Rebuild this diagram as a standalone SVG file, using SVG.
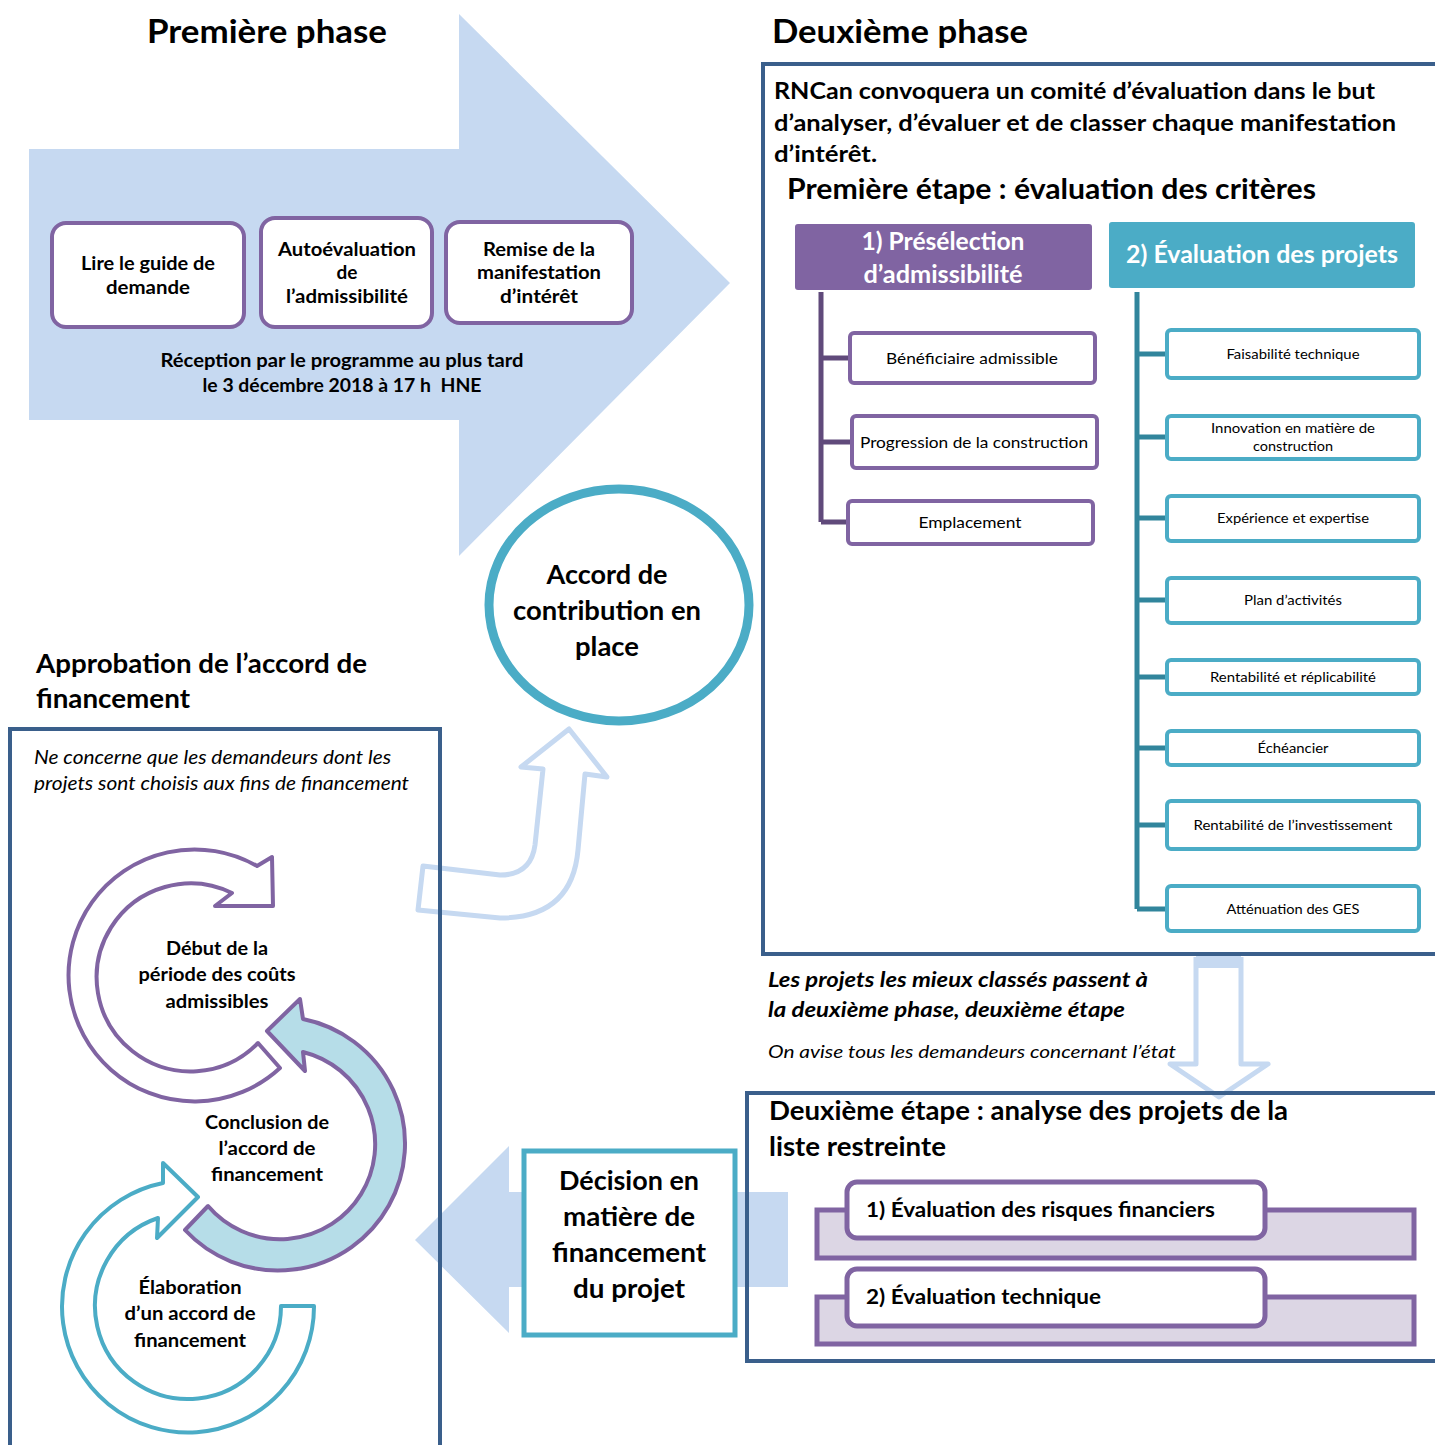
<svg xmlns="http://www.w3.org/2000/svg" width="1435" height="1445" viewBox="0 0 1435 1445">
<style>
text{font-family:Lato,"Open Sans","Liberation Sans",sans-serif;fill:#000}
.b{font-weight:bold}
.c{text-anchor:middle}
.i{font-style:italic}
.w{fill:#fff}
.frame{fill:none;stroke:#3A5F8B;stroke-width:4}
.pbox{fill:#fff;stroke:#8064A2;stroke-width:4}
.tbox{fill:#fff;stroke:#4BACC6;stroke-width:4}
.lb{fill:#C6D9F1}
.lbo{fill:none;stroke:#C6D9F1;stroke-width:5;stroke-linejoin:round}
.pl{stroke:#604A7B;stroke-width:5;fill:none}
.tl{stroke:#31859C;stroke-width:5;fill:none}
</style>
<rect width="1435" height="1445" fill="#fff"/>

<g id="connectors">
  <polygon class="lb" points="29,149 459,149 459,14 730,283 459,556 459,420 29,420"/>
  <polygon class="lb" points="788,1192 509,1192 509,1146 415,1240 509,1333 509,1287 788,1287"/>
  <path class="lbo" d="M543,769 L535,845 Q531,875 500,875 L423,866 L418,910 L500,918 Q572,918 578,850 L585,774 L607,777 L569,729 L521,767 Z"/>
  <rect class="lb" x="1196" y="955" width="45" height="13"/>
  <path class="lbo" d="M1196,957 L1196,1064 L1170,1064 L1219,1097 L1268,1064 L1241,1064 L1241,957"/>
  <path class="pl" d="M821,292 L821,522 M821,358 L850,358 M821,442 L852,442 M821,522 L848,522"/>
  <path class="tl" d="M1137,292 L1137,909 M1137,354 L1167,354 M1137,437 L1167,437 M1137,518 L1167,518 M1137,600 L1167,600 M1137,677 L1167,677 M1137,748 L1167,748 M1137,825 L1167,825 M1137,909 L1167,909"/>
</g>

<g id="frames">
  <rect class="frame" x="763" y="64" width="680" height="890"/>
  <rect class="frame" x="747" y="1093" width="696" height="268"/>
  <rect class="frame" x="10" y="729" width="430" height="730"/>
</g>

<g id="phase1">
  <text class="b c" x="267" y="43" font-size="32" textLength="240" lengthAdjust="spacingAndGlyphs">Première phase</text>
  <text class="b c" x="342" y="367" font-size="18" textLength="363" lengthAdjust="spacingAndGlyphs">Réception par le programme au plus tard</text>
  <text class="b c" x="342" y="392" font-size="18" textLength="279" lengthAdjust="spacingAndGlyphs" style="white-space:pre">le 3 décembre 2018 à 17 h  HNE</text>
</g>
<g id="n-lire">
  <rect class="pbox" x="52" y="223" width="192" height="104" rx="14"/>
  <text class="b c" x="148" y="270" font-size="19" textLength="134" lengthAdjust="spacingAndGlyphs">Lire le guide de</text>
  <text class="b c" x="148" y="294" font-size="19" textLength="84" lengthAdjust="spacingAndGlyphs">demande</text>
</g>
<g id="n-auto">
  <rect class="pbox" x="261" y="218" width="171" height="109" rx="14"/>
  <text class="b c" x="347" y="256" font-size="19" textLength="138" lengthAdjust="spacingAndGlyphs">Autoévaluation</text>
  <text class="b c" x="347" y="279" font-size="19">de</text>
  <text class="b c" x="347" y="303" font-size="19" textLength="122" lengthAdjust="spacingAndGlyphs">l’admissibilité</text>
</g>
<g id="n-remise">
  <rect class="pbox" x="446" y="222" width="186" height="101" rx="14"/>
  <text class="b c" x="539" y="256" font-size="19" textLength="112" lengthAdjust="spacingAndGlyphs">Remise de la</text>
  <text class="b c" x="539" y="279" font-size="19" textLength="124" lengthAdjust="spacingAndGlyphs">manifestation</text>
  <text class="b c" x="539" y="303" font-size="19" textLength="78" lengthAdjust="spacingAndGlyphs">d’intérêt</text>
</g>

<g id="n-accord">
  <ellipse cx="619" cy="605" rx="130" ry="116" fill="#fff" stroke="#4BACC6" stroke-width="9"/>
  <text class="b c" x="607" y="584" font-size="26" textLength="121" lengthAdjust="spacingAndGlyphs">Accord de</text>
  <text class="b c" x="607" y="620" font-size="26" textLength="188" lengthAdjust="spacingAndGlyphs">contribution en</text>
  <text class="b c" x="607" y="656" font-size="26" textLength="64" lengthAdjust="spacingAndGlyphs">place</text>
</g>

<g id="phase2">
  <text class="b" x="772" y="43" font-size="32" textLength="256" lengthAdjust="spacingAndGlyphs">Deuxième phase</text>
  <text class="b" x="774" y="99" font-size="23" textLength="601" lengthAdjust="spacingAndGlyphs">RNCan convoquera un comité d’évaluation dans le but</text>
  <text class="b" x="774" y="131" font-size="23" textLength="622" lengthAdjust="spacingAndGlyphs">d’analyser, d’évaluer et de classer chaque manifestation</text>
  <text class="b" x="774" y="162" font-size="23" textLength="103" lengthAdjust="spacingAndGlyphs">d’intérêt.</text>
  <text class="b" x="787" y="199" font-size="28" textLength="529" lengthAdjust="spacingAndGlyphs">Première étape : évaluation des critères</text>
</g>
<g id="n-presel">
  <rect x="795" y="224" width="297" height="66" rx="3" fill="#8064A2"/>
  <text class="b c w" x="943" y="250" font-size="24" textLength="163" lengthAdjust="spacingAndGlyphs">1) Présélection</text>
  <text class="b c w" x="943" y="283" font-size="24" textLength="159" lengthAdjust="spacingAndGlyphs">d’admissibilité</text>
</g>
<g id="n-evalproj">
  <rect x="1109" y="222" width="306" height="66" rx="3" fill="#4BACC6"/>
  <text class="b c w" x="1262" y="263" font-size="24" textLength="272" lengthAdjust="spacingAndGlyphs">2) Évaluation des projets</text>
</g>
<g id="n-benef"><rect class="pbox" x="850" y="333" width="245" height="50" rx="4"/><text class="c" x="972" y="364" font-size="16" textLength="172" lengthAdjust="spacingAndGlyphs">Bénéficiaire admissible</text></g>
<g id="n-progr"><rect class="pbox" x="852" y="416" width="245" height="52" rx="4"/><text class="c" x="974" y="448" font-size="16" textLength="228" lengthAdjust="spacingAndGlyphs">Progression de la construction</text></g>
<g id="n-empl"><rect class="pbox" x="848" y="501" width="245" height="43" rx="4"/><text class="c" x="970" y="528" font-size="16" textLength="103" lengthAdjust="spacingAndGlyphs">Emplacement</text></g>

<g id="n-c1"><rect class="tbox" x="1167" y="330" width="252" height="48" rx="4"/><text class="c" x="1293" y="359" font-size="14" textLength="133" lengthAdjust="spacingAndGlyphs">Faisabilité technique</text></g>
<g id="n-c2"><rect class="tbox" x="1167" y="416" width="252" height="43" rx="4"/><text class="c" x="1293" y="433" font-size="14" textLength="164" lengthAdjust="spacingAndGlyphs">Innovation en matière de</text><text class="c" x="1293" y="451" font-size="14" textLength="80" lengthAdjust="spacingAndGlyphs">construction</text></g>
<g id="n-c3"><rect class="tbox" x="1167" y="496" width="252" height="45" rx="4"/><text class="c" x="1293" y="523" font-size="14" textLength="152" lengthAdjust="spacingAndGlyphs">Expérience et expertise</text></g>
<g id="n-c4"><rect class="tbox" x="1167" y="578" width="252" height="45" rx="4"/><text class="c" x="1293" y="605" font-size="14" textLength="98" lengthAdjust="spacingAndGlyphs">Plan d’activités</text></g>
<g id="n-c5"><rect class="tbox" x="1167" y="660" width="252" height="34" rx="4"/><text class="c" x="1293" y="682" font-size="14" textLength="166" lengthAdjust="spacingAndGlyphs">Rentabilité et réplicabilité</text></g>
<g id="n-c6"><rect class="tbox" x="1167" y="731" width="252" height="34" rx="4"/><text class="c" x="1293" y="753" font-size="14" textLength="71" lengthAdjust="spacingAndGlyphs">Échéancier</text></g>
<g id="n-c7"><rect class="tbox" x="1167" y="801" width="252" height="48" rx="4"/><text class="c" x="1293" y="830" font-size="14" textLength="199" lengthAdjust="spacingAndGlyphs">Rentabilité de l’investissement</text></g>
<g id="n-c8"><rect class="tbox" x="1167" y="886" width="252" height="45" rx="4"/><text class="c" x="1293" y="914" font-size="14" textLength="133" lengthAdjust="spacingAndGlyphs">Atténuation des GES</text></g>

<g id="notes">
  <text class="b i" x="768" y="987" font-size="21" textLength="380" lengthAdjust="spacingAndGlyphs">Les projets les mieux classés passent à</text>
  <text class="b i" x="768" y="1017" font-size="21" textLength="357" lengthAdjust="spacingAndGlyphs">la deuxième phase, deuxième étape</text>
  <text class="i" x="768" y="1058" font-size="18" textLength="408" lengthAdjust="spacingAndGlyphs">On avise tous les demandeurs concernant l’état</text>
</g>

<g id="etape2">
  <text class="b" x="769" y="1120" font-size="26" textLength="519" lengthAdjust="spacingAndGlyphs">Deuxième étape : analyse des projets de la</text>
  <text class="b" x="769" y="1156" font-size="26" textLength="177" lengthAdjust="spacingAndGlyphs">liste restreinte</text>
</g>
<g id="n-risques">
  <rect x="817" y="1210" width="597" height="48" fill="#DCD6E4" stroke="#8064A2" stroke-width="5"/>
  <rect x="847" y="1182" width="418" height="56" rx="10" fill="#fff" stroke="#8064A2" stroke-width="5"/>
  <text class="b" x="866" y="1217" font-size="21" textLength="349" lengthAdjust="spacingAndGlyphs">1) Évaluation des risques financiers</text>
</g>
<g id="n-technique">
  <rect x="817" y="1297" width="597" height="47" fill="#DCD6E4" stroke="#8064A2" stroke-width="5"/>
  <rect x="847" y="1269" width="418" height="57" rx="10" fill="#fff" stroke="#8064A2" stroke-width="5"/>
  <text class="b" x="866" y="1304" font-size="21" textLength="235" lengthAdjust="spacingAndGlyphs">2) Évaluation technique</text>
</g>

<g id="n-decision">
  <rect x="524" y="1151" width="211" height="184" fill="#fff" stroke="#4BACC6" stroke-width="5"/>
  <text class="b c" x="629" y="1190" font-size="26" textLength="140" lengthAdjust="spacingAndGlyphs">Décision en</text>
  <text class="b c" x="629" y="1226" font-size="26" textLength="132" lengthAdjust="spacingAndGlyphs">matière de</text>
  <text class="b c" x="629" y="1262" font-size="26" textLength="154" lengthAdjust="spacingAndGlyphs">financement</text>
  <text class="b c" x="629" y="1298" font-size="26" textLength="112" lengthAdjust="spacingAndGlyphs">du projet</text>
</g>

<g id="approbation">
  <text class="b" x="36" y="673" font-size="26" textLength="331" lengthAdjust="spacingAndGlyphs">Approbation de l’accord de</text>
  <text class="b" x="36" y="708" font-size="26" textLength="154" lengthAdjust="spacingAndGlyphs">financement</text>
  <text class="i" x="34" y="764" font-size="19" textLength="357" lengthAdjust="spacingAndGlyphs">Ne concerne que les demandeurs dont les</text>
  <text class="i" x="34" y="790" font-size="19" textLength="375" lengthAdjust="spacingAndGlyphs">projets sont choisis aux fins de financement</text>
</g>

<g id="n-debut">
  <path d="M280,1068 A126,126 0 1 1 257,866 L272,857 L273,906 L215,906 L232,893 A94,94 0 1 0 258,1043 Z" fill="#fff" stroke="#8064A2" stroke-width="4" stroke-linejoin="round"/>
  <text class="b c" x="217" y="955" font-size="19" textLength="102" lengthAdjust="spacingAndGlyphs">Début de la</text>
  <text class="b c" x="217" y="981" font-size="19" textLength="157" lengthAdjust="spacingAndGlyphs">période des coûts</text>
  <text class="b c" x="217" y="1008" font-size="19" textLength="103" lengthAdjust="spacingAndGlyphs">admissibles</text>
</g>
<g id="n-conclusion">
  <path d="M185,1230 A127,127 0 1 0 303,1019 L300,999 L267,1031 L305,1071 L303,1052 A95,95 0 1 1 208,1206 Z" fill="#B6DDE8" stroke="#8064A2" stroke-width="4" stroke-linejoin="round"/>
  <text class="b c" x="267" y="1129" font-size="19" textLength="124" lengthAdjust="spacingAndGlyphs">Conclusion de</text>
  <text class="b c" x="267" y="1155" font-size="19" textLength="97" lengthAdjust="spacingAndGlyphs">l’accord de</text>
  <text class="b c" x="267" y="1181" font-size="19" textLength="112" lengthAdjust="spacingAndGlyphs">financement</text>
</g>
<g id="n-elaboration">
  <path d="M314,1306 A126,126 0 1 1 163,1183 L163,1163 L198,1197 L157,1238 L158,1218 A93,93 0 1 0 281,1306 Z" fill="#fff" stroke="#4BACC6" stroke-width="4" stroke-linejoin="round"/>
  <text class="b c" x="190" y="1294" font-size="19" textLength="103" lengthAdjust="spacingAndGlyphs">Élaboration</text>
  <text class="b c" x="190" y="1320" font-size="19" textLength="131" lengthAdjust="spacingAndGlyphs">d’un accord de</text>
  <text class="b c" x="190" y="1347" font-size="19" textLength="112" lengthAdjust="spacingAndGlyphs">financement</text>
</g>
</svg>
